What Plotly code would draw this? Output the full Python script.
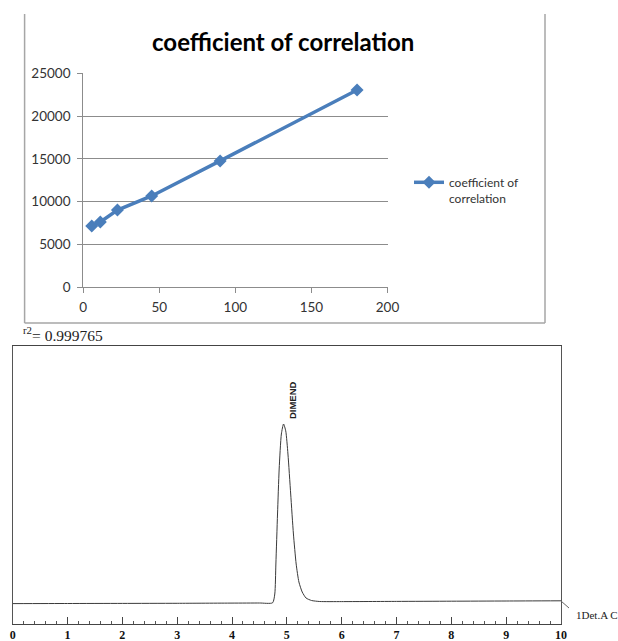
import plotly.graph_objects as go

# ---- top chart data (Excel calibration plot) ----
conc = [5.625, 11.25, 22.5, 45, 90, 180]
area = [7150, 7600, 9000, 10650, 14750, 23050]
series_name = "coefficient of<br>correlation"
top_title = "coefficient of correlation"
r2_value = "0.999765"

# ---- bottom chart data (chromatogram trace) ----
rt = [0.0, 1.0, 2.0, 3.0, 4.0, 4.5, 4.74, 4.78, 4.80, 4.83, 4.86, 4.90, 4.94,
      4.98, 5.02, 5.07, 5.12, 5.17, 5.22, 5.28, 5.35, 5.45, 5.6, 6.0, 7.0,
      8.0, 9.0, 10.0]
signal = [20.4, 20.5, 20.6, 20.7, 20.9, 21.0, 21.2, 30, 60, 110, 155, 190, 200,
          193, 170, 130, 90, 60, 42, 32, 26, 23.5, 22.5, 22.4, 22.6,
          22.8, 23.0, 23.2]
peak_name = "DIMEND"
peak_rt = 4.94
detector_label = "1Det.A C"

W, H = 618, 641
def px(x):
    return x / W
def py(y):
    return 1 - y / H

fig = go.Figure()

fig.add_trace(go.Scatter(
    x=conc, y=area, mode="lines+markers", name=series_name,
    line=dict(color="#4a7ebb", width=3.5),
    marker=dict(symbol="diamond", size=10, color="#4a7ebb"),
    xaxis="x", yaxis="y", showlegend=True,
))

fig.add_trace(go.Scatter(
    x=rt, y=signal, mode="lines", name="chromatogram",
    line=dict(color="#3a3a3a", width=1.0, shape="spline", smoothing=0.6),
    xaxis="x2", yaxis="y2", showlegend=False,
))

excel_font = "Lato, 'Open Sans', sans-serif"
grid_c = "#8c8c8c"

fig.update_layout(
    width=W, height=H,
    margin=dict(l=0, r=0, t=0, b=0),
    paper_bgcolor="white", plot_bgcolor="white",
    xaxis=dict(
        domain=[px(83.2), px(387.5)], anchor="y", automargin=False,
        range=[0, 200], dtick=50, showgrid=False, zeroline=False,
        showline=True, linecolor=grid_c, linewidth=1,
        ticks="outside", ticklen=5, tickcolor=grid_c,
        tickfont=dict(family=excel_font, size=13.5, color="#333333"),
        ticklabelstandoff=3,
    ),
    yaxis=dict(
        domain=[py(287), py(73.3)], anchor="x", automargin=False,
        range=[0, 25000], dtick=5000, tickformat="d",
        showgrid=True, gridcolor=grid_c, gridwidth=1, zeroline=False,
        showline=True, linecolor=grid_c, linewidth=1,
        ticks="outside", ticklen=5, tickcolor=grid_c,
        tickfont=dict(family=excel_font, size=13.5, color="#333333"),
        ticklabelstandoff=4,
    ),
    xaxis2=dict(
        domain=[px(12.7), px(561)], anchor="y2", automargin=False,
        range=[0, 10], dtick=1, showgrid=False, zeroline=False,
        showline=True, mirror=True, linecolor="#444444", linewidth=1.2,
        ticks="inside", ticklen=7, tickcolor="#444444",
        minor=dict(ticks="inside", ticklen=3, dtick=0.2, tickcolor="#555555"),
        tickfont=dict(family="'Liberation Serif', serif", size=12, color="#111111", weight="bold"),
        ticklabelstandoff=-1,
    ),
    yaxis2=dict(
        domain=[py(624), py(346)], anchor="x2", automargin=False,
        range=[0, 278], showgrid=False, zeroline=False,
        showline=True, mirror=True, linecolor="#555555", linewidth=1,
        showticklabels=False, ticks="",
    ),
    legend=dict(
        x=px(409), y=py(168), xanchor="left", yanchor="top",
        bgcolor="rgba(0,0,0,0)", borderwidth=0, valign="top",
        font=dict(family=excel_font, size=12, color="#333333"),
        itemwidth=30,
    ),
)

# Excel chart area frame
frame_c = "#a6a6a6"
for x0, y0, x1, y1 in [(24.6, 14, 24.6, 323), (545, 14, 545, 323), (24.6, 323, 545, 323)]:
    fig.add_shape(type="line", xref="paper", yref="paper",
                  x0=px(x0), y0=py(y0), x1=px(x1), y1=py(y1),
                  line=dict(color=frame_c, width=1.5))

# tick at end of baseline
fig.add_shape(type="line", xref="paper", yref="paper",
              x0=px(561), y0=py(601), x1=px(569), y1=py(608),
              line=dict(color="#666666", width=1))

fig.add_annotation(
    text="<b>" + top_title + "</b>", xref="paper", yref="paper",
    x=px(283), y=py(42), xanchor="center", yanchor="middle", showarrow=False,
    font=dict(family=excel_font, size=24, color="#000000"),
)

fig.add_annotation(
    text="<sup>r2</sup>= " + r2_value, xref="paper", yref="paper",
    x=px(21), y=py(334), xanchor="left", yanchor="middle", showarrow=False,
    font=dict(family="'Liberation Serif', serif", size=15.5, color="#222222"),
)

fig.add_annotation(
    text="<b>" + peak_name + "</b>", xref="x2", yref="y2",
    x=peak_rt, y=max(signal), xshift=8.5, yshift=3, textangle=-90,
    xanchor="center", yanchor="bottom", showarrow=False,
    font=dict(family="'Liberation Sans', sans-serif", size=9.5, color="#222222"),
)

fig.add_annotation(
    text=detector_label, xref="paper", yref="paper",
    x=px(574), y=py(615), xanchor="left", yanchor="middle", showarrow=False,
    font=dict(family="'Liberation Serif', serif", size=11, color="#222222"),
)

fig.write_html("out.html", config={"displayModeBar": False},
               post_script="document.body.style.margin='0px';")
